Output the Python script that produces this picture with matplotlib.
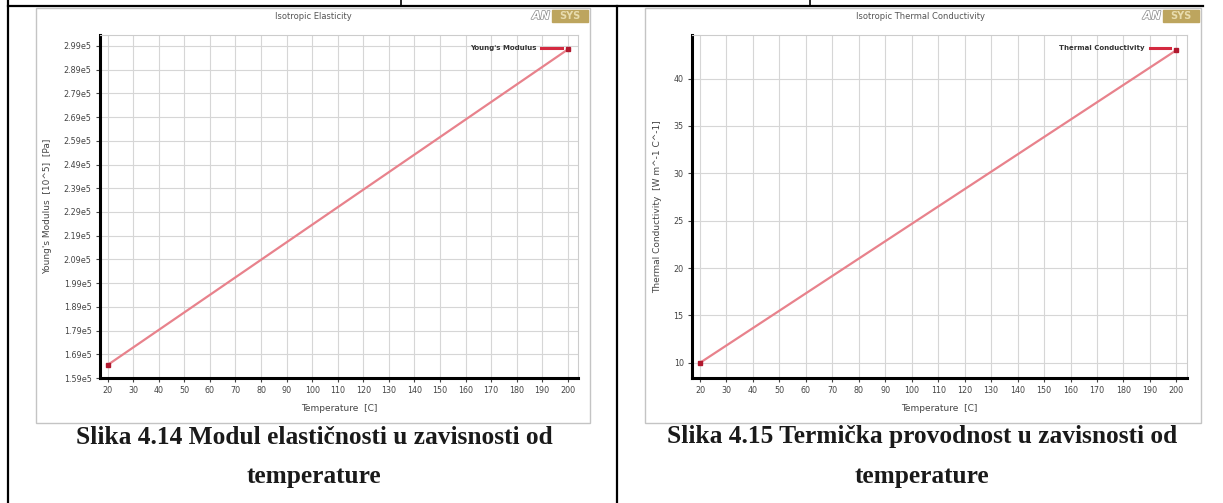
import matplotlib
matplotlib.use("Agg")
import matplotlib.pyplot as plt
import matplotlib.patheffects as pe
from matplotlib.lines import Line2D
from matplotlib.patches import Rectangle

# ---------------------------------------------------------------------
# Data
# ---------------------------------------------------------------------
temperature = [20, 200]
youngs_modulus = [1.645e5, 2.975e5]
thermal_conductivity = [10.0, 43.0]

temp_ticks = list(range(20, 201, 10))
youngs_ticks = [1.59e5 + i * 0.1e5 for i in range(15)]
youngs_tick_labels = ["1.59e5", "1.69e5", "1.79e5", "1.89e5", "1.99e5",
                      "2.09e5", "2.19e5", "2.29e5", "2.39e5", "2.49e5",
                      "2.59e5", "2.69e5", "2.79e5", "2.89e5", "2.99e5"]
thermal_ticks = [10, 15, 20, 25, 30, 35, 40]

captions = [
    ("Slika 4.14 Modul elastičnosti u zavisnosti od", "temperature"),
    ("Slika 4.15 Termička provodnost u zavisnosti od", "temperature"),
]

W, H = 1223, 503
LINE = "#e8828c"
MARK = "#b0182e"
GRID = "#d6d6d6"
TXT = "#444444"


def rect(x0, y0, x1, y1):
    # pixel box (top-left origin) -> figure fraction
    return [x0 / W, 1 - y1 / H, (x1 - x0) / W, (y1 - y0) / H]


fig = plt.figure(figsize=(W / 100, H / 100), dpi=100)

# ---------------------------------------------------------------------
# Page layer: table borders, screenshot frames, captions
# ---------------------------------------------------------------------
bg = fig.add_axes([0, 0, 1, 1])
bg.set_xlim(0, W)
bg.set_ylim(H, 0)
bg.axis("off")

bg.plot([8, 8], [0, H], color="black", lw=1.6)
bg.plot([8, 1203], [6, 6], color="black", lw=1.6)
bg.plot([617, 617], [6, H], color="black", lw=1.6)
bg.plot([401, 401], [0, 6], color="black", lw=1.2)
bg.plot([810, 810], [0, 6], color="black", lw=1.2)

for x0, x1, cx, title in [(36, 590, 313, "Isotropic Elasticity"),
                          (645, 1201, 921, "Isotropic Thermal Conductivity")]:
    bg.add_patch(Rectangle((x0, 8), x1 - x0, 415, fill=False,
                           ec="#c4c4c4", lw=1.0))
    bg.text(cx, 16, title, ha="center", va="center", fontsize=6,
            color="#555555")
    # ANSYS logo
    bg.text(x1 - 58, 16, "AN", ha="left", va="center", fontsize=8,
            style="italic", color="white", fontweight="bold",
            path_effects=[pe.withStroke(linewidth=1.0, foreground="#8a8a8a")])
    bg.add_patch(Rectangle((x1 - 38, 10), 36, 12, color="#bda55e"))
    bg.text(x1 - 20, 16, "SYS", ha="center", va="center", fontsize=7,
            color="#e8dcae", fontweight="bold")

for cx, (l1, l2) in zip([314, 922], captions):
    bg.text(cx, 437, l1, ha="center", va="center", fontsize=18.3,
            fontweight="bold", family="Liberation Serif", color="#1a1a1a")
    bg.text(cx, 476, l2, ha="center", va="center", fontsize=18.3,
            fontweight="bold", family="Liberation Serif", color="#1a1a1a")

# ---------------------------------------------------------------------
# The two property plots
# ---------------------------------------------------------------------
ax1 = fig.add_axes(rect(100, 35, 578, 378))
ax2 = fig.add_axes(rect(692, 35, 1187, 378))

panels = [
    (ax1, youngs_modulus, "Young's Modulus", "Young's Modulus  [10^5]  [Pa]",
     (1.59e5, 3.036e5), youngs_ticks, youngs_tick_labels),
    (ax2, thermal_conductivity, "Thermal Conductivity",
     "Thermal Conductivity  [W m^-1 C^-1]",
     (8.4, 44.6), thermal_ticks, [str(t) for t in thermal_ticks]),
]

for ax, vals, name, ylab, ylim, yt, ytl in panels:
    ax.plot(temperature, vals, color=LINE, lw=1.6, marker="s", ms=3,
            mfc=MARK, mec=MARK, zorder=3)
    ax.set_xlim(17, 204)
    ax.set_ylim(*ylim)
    ax.set_xticks(temp_ticks)
    ax.set_yticks(yt)
    ax.set_yticklabels(ytl)
    ax.grid(True, color=GRID, lw=0.8)
    ax.set_axisbelow(True)
    for s in ["left", "bottom"]:
        ax.spines[s].set_linewidth(2.2)
        ax.spines[s].set_color("black")
    for s in ["top", "right"]:
        ax.spines[s].set_linewidth(0.8)
        ax.spines[s].set_color("#cccccc")
    ax.tick_params(labelsize=5.8, colors=TXT, length=3, width=0.8, pad=3)
    ax.set_xlabel("Temperature  [C]", fontsize=6.5, color=TXT, labelpad=6)
    ax.set_ylabel(ylab, fontsize=6.5, color=TXT, labelpad=8)
    handle = Line2D([], [], color="#d42a40", lw=2.2)
    leg = ax.legend([handle], [name], loc="center right",
                    bbox_to_anchor=(0.972, 0.962), markerfirst=False,
                    frameon=False, fontsize=5, handlelength=3.0,
                    handletextpad=0.7, borderaxespad=0)
    for t in leg.get_texts():
        t.set_fontweight("bold")
        t.set_color("#333333")

fig.savefig("out.png", dpi=100)
